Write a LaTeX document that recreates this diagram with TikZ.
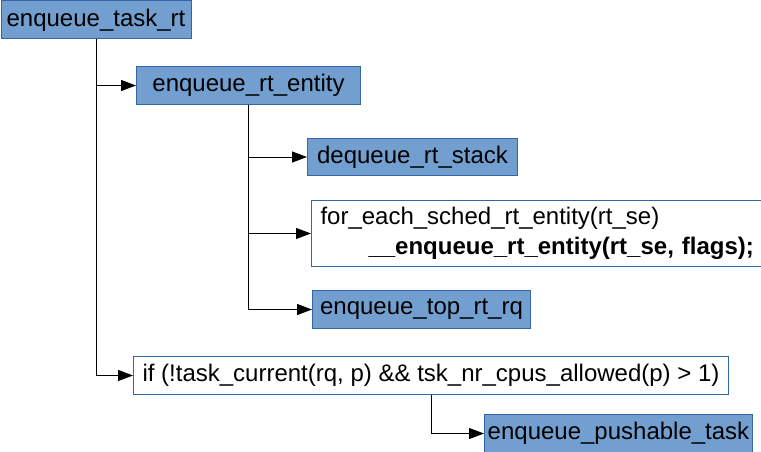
\documentclass[tikz,border=0pt]{standalone}
\usepackage{fontspec}
\setmainfont{Liberation Sans}
\usetikzlibrary{arrows.meta}
\definecolor{boxfill}{HTML}{729FCF}
\definecolor{boxline}{HTML}{3465A4}
\begin{document}
\begin{tikzpicture}[x=1pt,y=-1pt,
  font=\fontsize{24}{30}\selectfont,
  fn/.style={draw=boxline,fill=boxfill,line width=1pt,inner sep=0pt,anchor=north west},
  cd/.style={draw=boxline,fill=white,line width=1pt,inner sep=0pt,anchor=north west},
  conn/.style={draw=black,line width=1pt,-{Triangle[length=15pt,width=11pt]}}]
\useasboundingbox (0,0) rectangle (761,452);
\node[fn,minimum width=190pt,minimum height=38pt] (t) at (0.5,0.5) {enqueue\_task\_rt};
\node[fn,minimum width=224pt,minimum height=38pt] (e) at (136,66) {enqueue\_rt\_entity};
\node[fn,minimum width=210pt,minimum height=37pt] (d) at (307,138) {dequeue\_rt\_stack};
\node[cd,minimum width=450pt,minimum height=66pt,text width=436pt,inner xsep=9pt,inner ysep=3pt,align=left] (f) at (311,200)
  {for\_each\_sched\_rt\_entity(rt\_se)\\\hspace*{48pt}\textbf{\_\_enqueue\_rt\_entity(rt\_se, flags);}};
\node[fn,minimum width=218pt,minimum height=38pt] (q) at (312,290) {enqueue\_top\_rt\_rq};
\node[cd,minimum width=595pt,minimum height=38pt] (i) at (133,356) {if (!task\_current(rq, p) \&\& tsk\_nr\_cpus\_allowed(p) > 1)};
\node[fn,minimum width=268pt,minimum height=38pt] (p) at (484,414) {enqueue\_pushable\_task};
\draw[conn] (t.south) |- (e.west);
\draw[conn] (t.south) |- (i.west);
\draw[conn] (e.south) |- (d.west);
\draw[conn] (e.south) |- (f.west);
\draw[conn] (e.south) |- (q.west);
\draw[conn] (i.south) |- (p.west);
\end{tikzpicture}
\end{document}
